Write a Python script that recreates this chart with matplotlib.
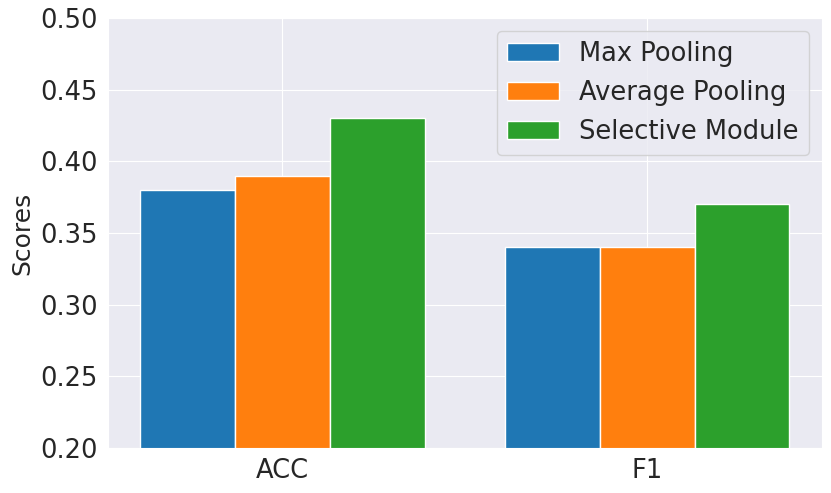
import numpy as np
import seaborn as sns
from matplotlib import pyplot as plt

sns.set_style('darkgrid')
plt.rcParams['font.family'] = ['DejaVu Sans']

metrics = ['ACC', 'F1']
methods = ['Max Pooling', 'Average Pooling', 'Selective Module']
max_pool = [0.38, 0.34]
avg_pool = [0.39, 0.34]
selective = [0.43, 0.37]
colors = ['#1f77b4', '#ff7f0e', '#2ca02c']

x = np.arange(len(metrics))
w = 0.26

fig, ax = plt.subplots(figsize=(8.31, 4.93), dpi=100)
for i, (vals, name) in enumerate(zip([max_pool, avg_pool, selective], methods)):
    ax.bar(x + (i - 1) * w, vals, w, label=name, color=colors[i], edgecolor='white')

ax.set_ylim(0.2, 0.5)
ax.set_xticks(x)
ax.set_xticklabels(metrics, fontsize=18.5)
ax.tick_params(axis='y', labelsize=18.5)
ax.set_ylabel('Scores', fontsize=18)
ax.legend(loc='upper right', fontsize=18.5)

fig.subplots_adjust(left=0.1294, right=0.989, top=0.9635, bottom=0.0913)
fig.savefig('out.png')
